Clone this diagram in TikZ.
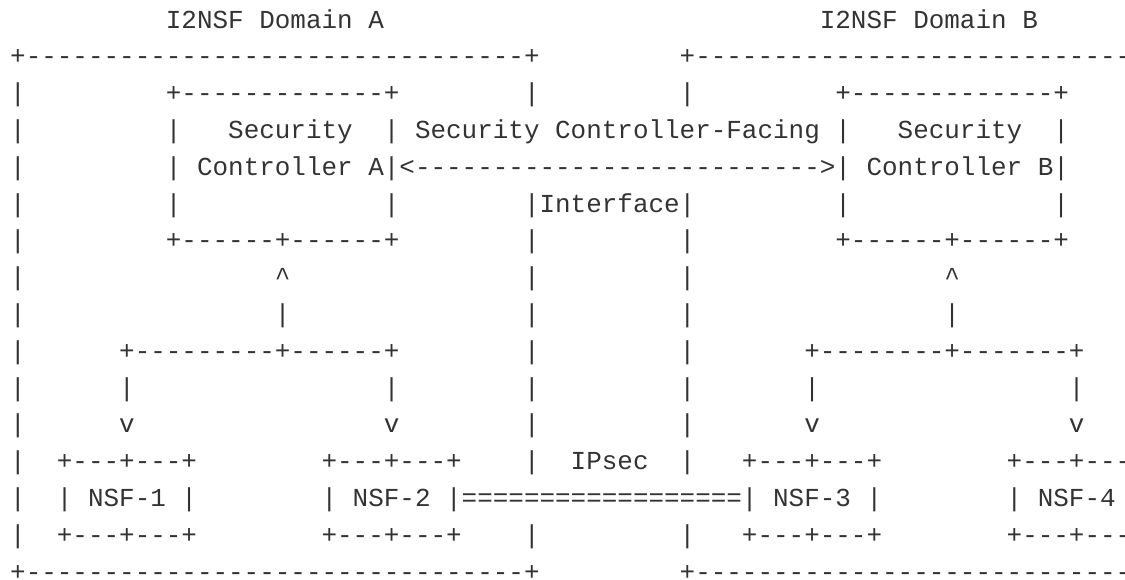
\documentclass[tikz,border=0pt]{standalone}
\usepackage{fontspec}
\newfontfamily\asciifont{Liberation Mono}
\definecolor{ink}{HTML}{333333}
\ExplSyntaxOn
\cs_new:Npn \rpt #1#2 { \prg_replicate:nn {#1} {#2} }
\ExplSyntaxOff
% character grid: column width, left offset, first baseline, line pitch
\newcommand\cw{15.57}
\newcommand\xo{10.2}
\newcommand\yo{28}
\newcommand\rh{36.8}
\tikzset{
  seg/.style={anchor=base west, inner sep=0pt, outer sep=0pt, text=ink,
    font=\asciifont\fontsize{25.95}{30}\selectfont},
}
% \putseg{name}{column}{row}{text}
\newcommand\putseg[4]{\node[seg] (#1) at ({\xo+\cw*(#2)},{-\yo-\rh*((#3)-1)}) {#4};}
\begin{document}
\begin{tikzpicture}[x=1pt,y=1pt]
\useasboundingbox (0,0) rectangle (1125,-579);
\clip (0,0) rectangle (1125,-579);
% row 1: domain titles
\putseg{titleA}{10}{1}{I2NSF Domain A}
\putseg{titleB}{52}{1}{I2NSF Domain B}
% row 2: domain borders (top)
\putseg{domAtop}{0}{2}{+\rpt{32}{-}+}
\putseg{domBtop}{43}{2}{+\rpt{34}{-}}
% row 3
\putseg{r3a}{0}{3}{|}
\putseg{scAtop}{10}{3}{+\rpt{13}{-}+}
\putseg{r3b}{33}{3}{|}
\putseg{r3c}{43}{3}{|}
\putseg{scBtop}{53}{3}{+\rpt{13}{-}+}
% row 4
\putseg{r4a}{0}{4}{|}
\putseg{r4b}{10}{4}{|}
\putseg{scAlab1}{14}{4}{Security}
\putseg{r4c}{24}{4}{|}
\putseg{ifacelab}{26}{4}{Security Controller-Facing}
\putseg{r4d}{53}{4}{|}
\putseg{scBlab1}{57}{4}{Security}
\putseg{r4e}{67}{4}{|}
% row 5
\putseg{r5a}{0}{5}{|}
\putseg{r5b}{10}{5}{|}
\putseg{scAlab2}{12}{5}{Controller A|<\rpt{26}{-}>|}
\putseg{scBlab2}{55}{5}{Controller B|}
% row 6
\putseg{r6a}{0}{6}{|}
\putseg{r6b}{10}{6}{|}
\putseg{r6c}{24}{6}{|}
\putseg{ifacelab2}{33}{6}{|Interface|}
\putseg{r6d}{53}{6}{|}
\putseg{r6e}{67}{6}{|}
% row 7
\putseg{r7a}{0}{7}{|}
\putseg{scAbot}{10}{7}{+\rpt{6}{-}+\rpt{6}{-}+}
\putseg{r7b}{33}{7}{|}
\putseg{r7c}{43}{7}{|}
\putseg{scBbot}{53}{7}{+\rpt{6}{-}+\rpt{6}{-}+}
% row 8
\putseg{r8a}{0}{8}{|}
\putseg{upA}{17}{8}{\textasciicircum}
\putseg{r8b}{33}{8}{|}
\putseg{r8c}{43}{8}{|}
\putseg{upB}{60}{8}{\textasciicircum}
% row 9
\putseg{r9a}{0}{9}{|}
\putseg{stemA}{17}{9}{|}
\putseg{r9b}{33}{9}{|}
\putseg{r9c}{43}{9}{|}
\putseg{stemB}{60}{9}{|}
% row 10
\putseg{r10a}{0}{10}{|}
\putseg{forkA}{7}{10}{+\rpt{9}{-}+\rpt{6}{-}+}
\putseg{r10b}{33}{10}{|}
\putseg{r10c}{43}{10}{|}
\putseg{forkB}{51}{10}{+\rpt{8}{-}+\rpt{7}{-}+}
% row 11
\putseg{r11a}{0}{11}{|}
\putseg{r11b}{7}{11}{|}
\putseg{r11c}{24}{11}{|}
\putseg{r11d}{33}{11}{|}
\putseg{r11e}{43}{11}{|}
\putseg{r11f}{51}{11}{|}
\putseg{r11g}{68}{11}{|}
% row 12
\putseg{r12a}{0}{12}{|}
\putseg{dn1}{7}{12}{v}
\putseg{dn2}{24}{12}{v}
\putseg{r12b}{33}{12}{|}
\putseg{r12c}{43}{12}{|}
\putseg{dn3}{51}{12}{v}
\putseg{dn4}{68}{12}{v}
% row 13: NSF box tops
\putseg{r13a}{0}{13}{|}
\putseg{nsf1top}{3}{13}{+---+---+}
\putseg{nsf2top}{20}{13}{+---+---+}
\putseg{r13b}{33}{13}{|}
\putseg{ipsec}{36}{13}{IPsec}
\putseg{r13c}{43}{13}{|}
\putseg{nsf3top}{47}{13}{+---+---+}
\putseg{nsf4top}{64}{13}{+---+---+}
% row 14: NSF labels and the IPsec tunnel
\putseg{r14a}{0}{14}{|}
\putseg{r14b}{3}{14}{|}
\putseg{nsf1}{5}{14}{NSF-1}
\putseg{r14c}{11}{14}{|}
\putseg{r14d}{20}{14}{|}
\putseg{nsf2}{22}{14}{NSF-2}
\putseg{tunnel}{28}{14}{|\rpt{18}{=}|}
\putseg{nsf3}{49}{14}{NSF-3}
\putseg{r14e}{55}{14}{|}
\putseg{r14f}{64}{14}{|}
\putseg{nsf4}{66}{14}{NSF-4}
\putseg{r14g}{72}{14}{|}
% row 15: NSF box bottoms
\putseg{r15a}{0}{15}{|}
\putseg{nsf1bot}{3}{15}{+---+---+}
\putseg{nsf2bot}{20}{15}{+---+---+}
\putseg{r15b}{33}{15}{|}
\putseg{r15c}{43}{15}{|}
\putseg{nsf3bot}{47}{15}{+---+---+}
\putseg{nsf4bot}{64}{15}{+---+---+}
% row 16: domain borders (bottom)
\putseg{domAbot}{0}{16}{+\rpt{32}{-}+}
\putseg{domBbot}{43}{16}{+\rpt{34}{-}}
\end{tikzpicture}
\end{document}
